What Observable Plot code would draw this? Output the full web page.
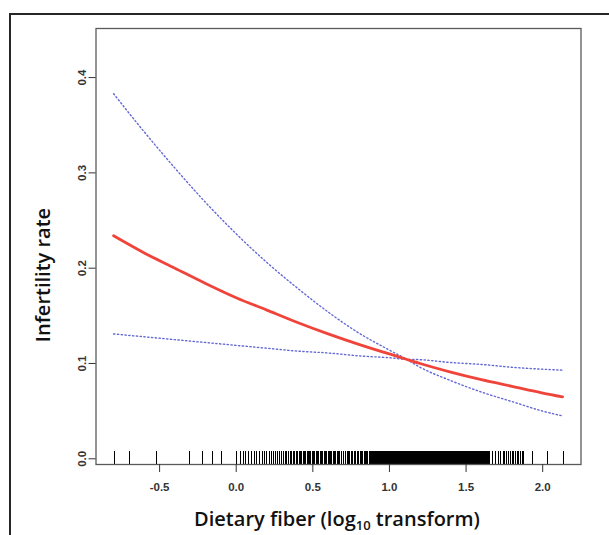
<!DOCTYPE html>
<html><head><meta charset="utf-8">
<script src="https://cdn.jsdelivr.net/npm/d3@7"></script>
<script src="https://cdn.jsdelivr.net/npm/@observablehq/plot@0.6"></script>
<style>
html,body{margin:0;padding:0;background:#fff;width:609px;height:535px;overflow:hidden;}
#wrap{position:relative;width:609px;height:535px;overflow:hidden;}
#outer{position:absolute;left:9px;top:13px;width:640px;height:580px;border:2px solid #262626;box-sizing:border-box;}
#chart{position:absolute;left:0;top:0;}
#xlabel{position:absolute;left:137px;width:400px;top:507px;text-align:center;font-family:"Open Sans",sans-serif;font-weight:600;font-size:20px;line-height:24px;color:#111;white-space:nowrap;}
#xlabel sub{font-size:13px;vertical-align:-4px;line-height:0;}
#ylabel{position:absolute;left:-57px;top:263px;width:200px;height:24px;line-height:24px;text-align:center;transform:rotate(-90deg);transform-origin:50% 50%;font-family:"Open Sans",sans-serif;font-weight:600;font-size:20px;color:#111;white-space:nowrap;}
</style>
</head><body>
<div id="wrap">
<div id="outer"></div>
<div id="chart"></div>
<div id="ylabel">Infertility rate</div>
<div id="xlabel">Dietary fiber (log<sub>10</sub> transform)</div>
</div>
<script>
// Fitted curve and 95% confidence band
const fitX = [-0.8,-0.6,-0.4,-0.2,0,0.2,0.4,0.6,0.8,1.0,1.1,1.2,1.4,1.6,1.8,2.0,2.13];
const fitY = [0.234,0.216,0.200,0.184,0.169,0.156,0.143,0.131,0.120,0.110,0.105,0.100,0.091,0.083,0.076,0.069,0.065];
const ciSteep = [0.383,0.343,0.305,0.269,0.236,0.206,0.179,0.154,0.132,0.114,0.1055,0.096,0.082,0.070,0.060,0.050,0.045];
const ciFlat = [0.131,0.128,0.125,0.122,0.119,0.116,0.113,0.111,0.108,0.106,0.1045,0.104,0.101,0.099,0.096,0.094,0.093];

// Rug of observed dietary fiber values (log10)
const rugX = [
-0.794,-0.697,-0.522,-0.305,-0.222,-0.157,-0.096,
0.000,0.028,0.046,0.062,0.081,0.100,0.118,0.135,0.152,0.170,0.186,0.200,0.215,0.230,0.244,0.258,0.271,0.284,0.296,
0.308,0.320,0.331,0.342,0.353,0.363,0.373,0.383,0.393,0.402,0.411,
0.420,0.429,0.437,0.446,0.454,0.463,0.471,0.480,0.488,0.497,0.505,0.514,0.522,0.531,0.539,0.548,0.556,0.565,0.573,0.582,0.590,0.599,0.607,0.616,0.624,0.633,0.641,0.650,0.658,0.667,0.675,
0.688,0.700,0.711,0.723,0.731,0.742,0.750,0.762,0.770,0.781,0.789,0.800,0.808,0.818,0.826,0.836,0.844,0.852,0.860,0.867,0.874,
0.880,0.886,0.892,0.898,0.904,0.910,0.916,0.922,0.928,0.934,0.940,0.946,0.952,0.958,0.964,0.970,0.976,0.982,0.988,0.994,
1.000,1.006,1.012,1.018,1.024,1.030,1.036,1.042,1.048,1.054,1.060,1.066,1.072,1.078,1.084,1.090,1.096,
1.102,1.108,1.114,1.120,1.126,1.132,1.138,1.144,1.150,1.156,1.162,1.168,1.174,1.180,1.186,1.192,1.198,
1.204,1.210,1.216,1.222,1.228,1.234,1.240,1.246,1.252,1.258,1.264,1.270,1.276,1.282,1.288,1.294,
1.300,1.306,1.312,1.318,1.324,1.330,1.336,1.342,1.348,1.354,1.360,1.366,1.372,1.378,1.384,1.390,1.396,
1.402,1.408,1.414,1.420,1.426,1.432,1.438,1.444,1.450,1.456,1.462,1.468,1.474,1.480,1.486,1.492,1.498,
1.504,1.510,1.516,1.522,1.528,1.534,1.540,1.546,1.552,1.558,1.564,1.570,1.576,1.582,1.588,1.594,
1.600,1.606,1.612,1.618,1.624,1.630,1.636,1.642,1.648,1.655,
1.671,1.692,1.713,1.724,1.741,1.750,1.767,1.778,1.789,1.800,1.811,1.822,1.833,1.844,1.855,1.866,1.873,
1.932,2.034,2.135
];

const xTicks = [-0.5,0.0,0.5,1.0,1.5,2.0];
const yTicks = [0.0,0.1,0.2,0.3,0.4];

const rows = fitX.map((x,i)=>({x, fit:fitY[i], steep:ciSteep[i], flat:ciFlat[i]}));

const W = 609, H = 535, mT = 28, mB = 71;
const plot = Plot.plot({
  width: W, height: H,
  marginLeft: 95.5, marginRight: 28.5, marginTop: mT, marginBottom: mB,
  style: {background:"none", fontFamily:"'Liberation Sans', Arial, sans-serif", fontSize:"11.5px", fontWeight:"bold", color:"#333", overflow:"visible"},
  x: {domain:[-0.915, 2.25]},
  y: {domain:[-0.006, 0.4515]},
  marks: [
    Plot.ruleX(rugX, {x: d=>d, insetTop: (H-mT-mB) - 13, stroke:"#000", strokeWidth:1, shapeRendering:"crispEdges"}),
    Plot.line(rows, {x:"x", y:"steep", stroke:"#6468d4", strokeWidth:1.4, strokeDasharray:"1.3,2.5", curve:"monotone-x"}),
    Plot.line(rows, {x:"x", y:"flat", stroke:"#6468d4", strokeWidth:1.4, strokeDasharray:"1.3,2.5", curve:"monotone-x"}),
    Plot.line(rows, {x:"x", y:"fit", stroke:"#f0443b", strokeWidth:2.8, curve:"monotone-x"}),
    Plot.frame({stroke:"#5a5a5a", strokeWidth:1.3}),
    Plot.axisX({ticks:xTicks, tickFormat:d=>d.toFixed(1), tickSize:8, tickPadding:10, stroke:"#333", label:null}),
    Plot.axisY({ticks:yTicks, tickFormat:d=>d.toFixed(1), tickSize:7, tickPadding:3, tickRotate:-90, stroke:"#333", label:null})
  ]
});
document.getElementById("chart").appendChild(plot);
</script>
</body></html>
